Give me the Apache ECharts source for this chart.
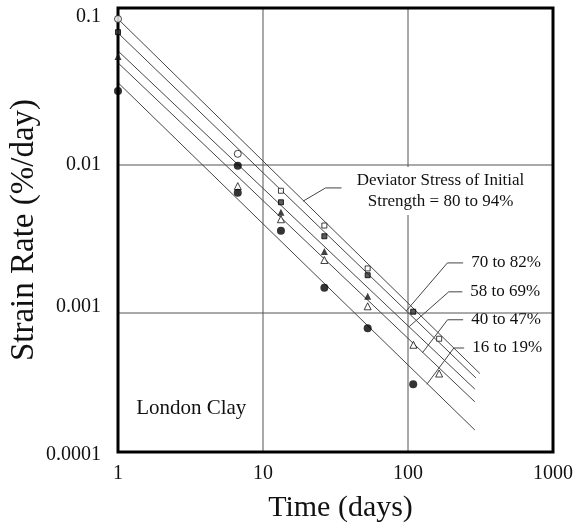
<!DOCTYPE html>
<html>
<head>
<meta charset="utf-8">
<script src="https://cdn.jsdelivr.net/npm/echarts@6.0.0/dist/echarts.min.js"></script>
<style>
  html, body { margin: 0; padding: 0; background: #fff; }
  #chart { width: 574px; height: 527px; }
</style>
</head>
<body>
<div id="chart"></div>
<script>
// tick labels and grid lines
const xTickLabels = ["1", "10", "100", "1000"];
const yTickLabels = ["0.0001", "0.001", "0.01", "0.1"];
const gridDays = [10, 100];
const gridRates = [0.01, 0.001];
// the drawn frame sits a little inside the rate decades
const frameRates = [0.115, 0.000115];

// stress groups (label next to each fitted line)
const groupNames = ["80 to 94%", "70 to 82%", "58 to 69%", "40 to 47%", "16 to 19%"];

// measured points, per group: time (days), strain rate (%/day), marker
const daysA = [1, 6.7, 13.3, 26.5, 52.7, 164];
const ratesA = [0.097, 0.0119, 0.0067, 0.0039, 0.002, 0.00067];
const marksA = ["o", "o", "sq", "sq", "sq", "sq"];

const daysB = [1, 6.7, 13.3, 26.5, 52.7, 108.6];
const ratesB = [0.079, 0.0099, 0.0056, 0.0033, 0.0018, 0.00102];
const marksB = ["fsq", "fo", "fsq", "fsq", "fsq", "fsq"];

const daysC = [1, 13.3, 26.5, 52.7];
const ratesC = [0.054, 0.0048, 0.0026, 0.0013];
const marksC = ["ftri", "ftri", "ftri", "ftri"];

const daysD = [6.7, 13.3, 26.5, 52.7, 109, 164];
const ratesD = [0.0072, 0.0043, 0.00228, 0.00111, 0.00061, 0.00039];
const marksD = ["tri", "tri", "tri", "tri", "tri", "tri"];

const daysE = [1, 6.7, 13.3, 26.5, 52.7, 108.6];
const ratesE = [0.0316, 0.0065, 0.0036, 0.00148, 0.00079, 0.00033];
const marksE = ["fo", "fo", "fo", "fo", "fo", "fo"];

// fitted straight lines (log-log), from day 1 to the end day
const fitStartRates = [0.097, 0.078, 0.059, 0.049, 0.036];
const fitEndDays = [313, 294, 289, 289, 289];
const fitEndRates = [0.00039, 0.000364, 0.000306, 0.000251, 0.000162];

// leader lines for the group labels, [day, rate] points
const leaderPoints = [
  [[18.9, 0.0057], [27, 0.007], [34.8, 0.007]],
  [[97, 0.00103], [187, 0.00218], [240, 0.00218]],
  [[102, 0.00081], [191, 0.00139], [237, 0.00139]],
  [[126, 0.00054], [187.5, 0.0009], [240, 0.0009]],
  [[135, 0.00033], [207, 0.00058], [244, 0.00058]]
];

const siteLabel = "London Clay";
const siteLabelAt = [3.2, 0.000228];

const serif = '"Liberation Serif", "Times New Roman", serif';
const groups = [
  [daysA, ratesA, marksA],
  [daysB, ratesB, marksB],
  [daysC, ratesC, marksC],
  [daysD, ratesD, marksD],
  [daysE, ratesE, marksE]
];

const markerStyles = {
  o: { symbol: "circle", symbolSize: 7, itemStyle: { color: "#fff", borderColor: "#111", borderWidth: 1 } },
  fo: { symbol: "circle", symbolSize: 8, itemStyle: { color: "#000" } },
  sq: { symbol: "rect", symbolSize: 5, itemStyle: { color: "#fff", borderColor: "#111", borderWidth: 1 } },
  fsq: { symbol: "rect", symbolSize: 5, itemStyle: { color: "#333", borderColor: "#000", borderWidth: 1 } },
  tri: { symbol: "triangle", symbolSize: 7, itemStyle: { color: "#fff", borderColor: "#111", borderWidth: 1 } },
  ftri: { symbol: "triangle", symbolSize: 7, itemStyle: { color: "#111" } }
};

const decade = value => Math.round(Math.log10(value));
const xLabel = value => xTickLabels[decade(value)] ?? "";
// the two lower rate labels sit a few px above their decade
const yLabel = value => {
  const text = yTickLabels[decade(value) + 4] ?? "";
  return value < 0.005 ? "{up|" + text + "}" : text;
};

const plainLine = (data, color, z) => ({
  type: "line",
  data,
  symbol: "none",
  silent: true,
  clip: false,
  z,
  lineStyle: { color, width: 1 }
});

const gridSeries = [
  ...gridDays.map(d => plainLine([[d, frameRates[0]], [d, frameRates[1]]], "#555", 1)),
  ...gridRates.map(r => plainLine([[1, r], [1000, r]], "#555", 1))
];

const fitSeries = fitStartRates.map((start, i) =>
  plainLine([[1, start], [fitEndDays[i], fitEndRates[i]]], "#444", 2));

const leaderSeries = leaderPoints.map(points => plainLine(points, "#444", 3));

const pointSeries = groups.map(([days, rates, marks], i) => ({
  name: groupNames[i],
  type: "scatter",
  z: 5,
  data: days.map((d, j) => Object.assign({ value: [d, rates[j]] }, markerStyles[marks[j]]))
}));

const chart = echarts.init(document.getElementById("chart"), null, { renderer: "canvas" });

chart.setOption({
  animation: false,
  grid: {
    left: 118,
    right: 21,
    top: 17,
    bottom: 66,
    containLabel: false,
    outerBoundsMode: "none",
    show: false
  },
  xAxis: {
    type: "log",
    logBase: 10,
    min: 1,
    max: 1000,
    name: "Time (days)",
    nameLocation: "middle",
    nameGap: 32,
    nameMoveOverlap: false,
    nameTextStyle: { fontFamily: serif, fontSize: 30, color: "#111", padding: [0, 0, 0, 10] },
    axisLine: { show: false },
    axisTick: { show: false },
    splitLine: { show: false },
    axisLabel: { fontFamily: serif, fontSize: 20, color: "#111", margin: 3, showMaxLabel: true, formatter: xLabel }
  },
  yAxis: {
    type: "log",
    logBase: 10,
    min: 0.0001,
    max: 0.1,
    name: "Strain Rate (%/day)",
    nameLocation: "middle",
    nameGap: 77,
    nameMoveOverlap: false,
    nameTextStyle: { fontFamily: serif, fontSize: 33, color: "#111", padding: [0, 0, 0, 18] },
    axisLine: { show: false },
    axisTick: { show: false },
    splitLine: { show: false },
    axisLabel: {
      fontFamily: serif,
      fontSize: 20,
      color: "#111",
      margin: 17,
      showMaxLabel: true,
      formatter: yLabel,
      rich: { up: { fontFamily: serif, fontSize: 20, color: "#111", padding: [0, 0, 12, 0] } }
    }
  },
  series: [...gridSeries, ...fitSeries, ...leaderSeries, ...pointSeries]
});

// frame and text annotations, placed from data coordinates
const toPx = p => chart.convertToPixel({ gridIndex: 0 }, p);
const textStyle = { fontFamily: serif, fontSize: 17, fill: "#111" };
const graphics = [];

const frameTopLeft = toPx([1, frameRates[0]]);
const frameBottomRight = toPx([1000, frameRates[1]]);
graphics.push({
  type: "rect",
  z: 4,
  silent: true,
  shape: {
    x: frameTopLeft[0],
    y: frameTopLeft[1],
    width: frameBottomRight[0] - frameTopLeft[0],
    height: frameBottomRight[1] - frameTopLeft[1]
  },
  style: { fill: null, stroke: "#000", lineWidth: 3 }
});

// the main label hides the grid line behind it
const firstEnd = toPx(leaderPoints[0][2]);
graphics.push({
  type: "text",
  z: 6,
  x: firstEnd[0] + 99,
  y: firstEnd[1] + 3,
  style: Object.assign({}, textStyle, {
    text: "Deviator Stress of Initial\nStrength = " + groupNames[0],
    align: "center",
    verticalAlign: "middle",
    lineHeight: 21,
    backgroundColor: "#fff",
    padding: [3, 2]
  })
});

leaderPoints.slice(1).forEach((points, i) => {
  const end = toPx(points[points.length - 1]);
  graphics.push({
    type: "text",
    x: end[0] + 8,
    y: end[1],
    style: Object.assign({}, textStyle, { text: groupNames[i + 1], align: "left", verticalAlign: "middle" })
  });
});

const site = toPx(siteLabelAt);
graphics.push({
  type: "text",
  x: site[0],
  y: site[1],
  style: Object.assign({}, textStyle, { text: siteLabel, fontSize: 21, align: "center", verticalAlign: "middle" })
});

chart.setOption({ graphic: graphics });
</script>
</body>
</html>
